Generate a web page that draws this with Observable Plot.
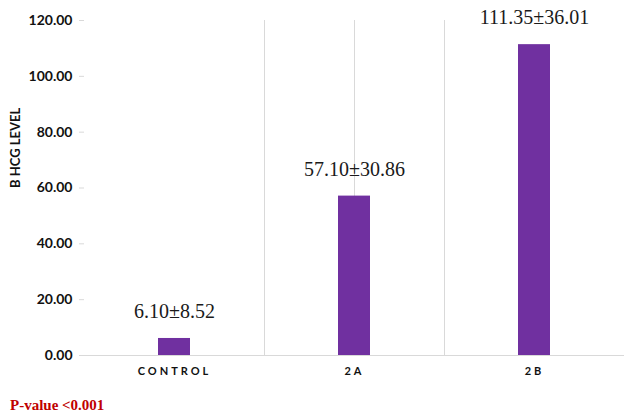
<!DOCTYPE html>
<html>
<head>
<meta charset="utf-8">
<script src="https://cdn.jsdelivr.net/npm/d3@7"></script>
<script src="https://cdn.jsdelivr.net/npm/@observablehq/plot@0.6"></script>
<style>
  html, body { margin: 0; padding: 0; background: #fff; }
  #wrap { position: relative; width: 624px; height: 414px; }
  #caption { position: absolute; left: 10px; top: 397px; font-family: "Liberation Serif", serif; font-weight: bold; font-size: 15px; color: #c00000; }
</style>
</head>
<body>
<div id="wrap">
  <div id="chart"></div>
  <div id="caption">P-value &lt;0.001</div>
</div>
<script>
const categories = ["CONTROL", "2A", "2B"];
const means = [6.10, 57.10, 111.35];
const sds = [8.52, 30.86, 36.01];
const yTicks = [0, 20, 40, 60, 80, 100, 120];

const data = categories.map((c, i) => ({cat: c, mean: means[i], sd: sds[i], label: `${means[i].toFixed(2)}±${sds[i].toFixed(2)}`}));

const chart = Plot.plot({
  width: 624,
  height: 390,
  marginLeft: 84,
  marginRight: 0,
  marginTop: 20,
  marginBottom: 35,
  style: {fontFamily: "Lato, sans-serif", background: "#fff", overflow: "visible"},
  x: {domain: categories, padding: 0, label: null},
  y: {domain: [0, 120], ticks: yTicks, label: null},
  marks: [
    Plot.ruleX(categories.slice(0, 2), {x: d => d, dx: 90, stroke: "#d9d9d9", strokeWidth: 1}),
    Plot.ruleX([0], {frameAnchor: "left", stroke: "#d9d9d9", y1: 0, y2: 120, x: null}),
    Plot.barY(data, {x: "cat", y: "mean", fill: "#7030a0", insetLeft: 74, insetRight: 74}),
    Plot.ruleY([0], {stroke: "#d9d9d9"}),
    Plot.text(data, {x: "cat", y: "mean", text: "label", dy: -27, fontFamily: "Liberation Serif, serif", fontSize: 20, fill: "#1a1a1a"}),
    Plot.axisY({ticks: yTicks, tickFormat: d3.format(".2f"), tickSize: 5, tickPadding: 7, stroke: "#d9d9d9", fill: "#111", fontSize: 14, fontWeight: "bold", label: null}),
    Plot.axisX({tickSize: 0, tickPadding: 12, fill: "#111", fontSize: 11, fontWeight: "bold", label: null}),
    Plot.text(["B HCG LEVEL"], {frameAnchor: "left", dx: -69, rotate: -90, fontSize: 13, fontWeight: "bold", fill: "#111"})
  ]
});

d3.select(chart).selectAll('g[aria-label="x-axis tick label"] text').style("letter-spacing", "3px");
d3.select(chart).selectAll('g[aria-label="y-axis tick"]').attr("stroke", "#d9d9d9");
document.getElementById("chart").appendChild(chart);
</script>
</body>
</html>
